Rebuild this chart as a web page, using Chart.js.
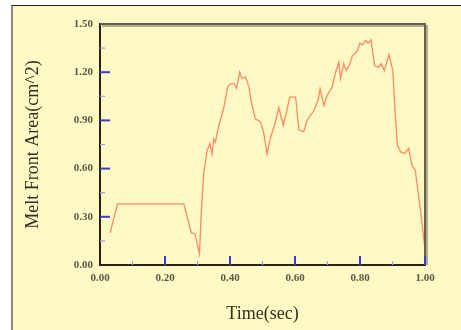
<!DOCTYPE html>
<html>
<head>
<meta charset="utf-8">
<script src="https://cdn.jsdelivr.net/npm/chart.js@4/dist/chart.umd.min.js"></script>
<style>
  html, body { margin: 0; padding: 0; background: #ffffff; }
  #wrap { position: relative; width: 461px; height: 330px; overflow: hidden; }
  #panel { position: absolute; left: 11px; top: 5px; width: 460px; height: 330px;
           background: #fff9c6; border-top: 1px solid #222; border-left: 2px solid #888; }
  #cv { position: absolute; left: 0; top: 0; }
</style>
</head>
<body>
<div id="wrap">
  <div id="panel"></div>
  <canvas id="cv" width="461" height="330"></canvas>
</div>
<script>
// Time (sec)
const timeSec = [0.031,0.054,0.258,0.281,0.292,0.306,0.311,0.319,0.330,0.338,0.345,0.350,0.355,0.366,0.381,0.393,0.402,0.412,0.420,0.430,0.437,0.448,0.458,0.465,0.478,0.494,0.504,0.514,0.525,0.537,0.550,0.555,0.564,0.571,0.584,0.602,0.612,0.627,0.637,0.658,0.671,0.677,0.689,0.699,0.714,0.725,0.735,0.740,0.750,0.758,0.769,0.776,0.791,0.800,0.808,0.817,0.825,0.834,0.845,0.858,0.865,0.875,0.889,0.901,0.909,0.915,0.925,0.937,0.950,0.960,0.970,0.986,1.000];
// Melt Front Area (cm^2)
const meltArea = [0.20,0.38,0.38,0.20,0.195,0.07,0.30,0.57,0.715,0.756,0.69,0.787,0.766,0.87,0.98,1.11,1.128,1.13,1.10,1.20,1.16,1.17,1.11,1.02,0.91,0.89,0.82,0.69,0.797,0.87,0.98,0.94,0.87,0.93,1.045,1.045,0.84,0.83,0.90,0.96,1.025,1.097,0.994,1.056,1.107,1.20,1.262,1.16,1.252,1.21,1.252,1.30,1.33,1.38,1.37,1.397,1.38,1.40,1.24,1.231,1.252,1.21,1.31,1.21,0.92,0.746,0.704,0.694,0.725,0.62,0.59,0.34,0.10];
// Tick values
const xMajorTicks = [0.2,0.4,0.6,0.8,1.0];
const xMinorTicks = [0.1,0.3,0.5,0.7,0.9];
const yMajorTicks = [0.3,0.6,0.9,1.2];
const yMinorTicks = [0.15,0.45,0.75,1.05,1.35];

const points = timeSec.map((t, i) => ({ x: t, y: meltArea[i] }));

const framePlugin = {
  id: 'frame',
  afterDatasetsDraw(chart) {
    const { ctx, chartArea: a, scales: { x, y } } = chart;
    ctx.save();
    ctx.strokeStyle = '#b4aa8c';
    ctx.lineWidth = 2;
    ctx.beginPath();
    ctx.moveTo(a.left + 2, a.top + 2);
    ctx.lineTo(a.right + 2, a.top + 2);
    ctx.lineTo(a.right + 2, a.bottom);
    ctx.stroke();
    ctx.strokeStyle = '#6a5f48';
    ctx.lineWidth = 2;
    ctx.beginPath();
    ctx.moveTo(a.left, a.top);
    ctx.lineTo(a.right, a.top);
    ctx.lineTo(a.right, a.bottom);
    ctx.stroke();
    const yb = y.getPixelForValue(0);
    const xl = x.getPixelForValue(0);
    ctx.lineWidth = 2;
    ctx.strokeStyle = '#3a3ad4';
    xMajorTicks.forEach(v => { const px = x.getPixelForValue(v); ctx.beginPath(); ctx.moveTo(px, yb); ctx.lineTo(px, yb - 9); ctx.stroke(); });
    yMajorTicks.forEach(v => { const py = y.getPixelForValue(v); ctx.beginPath(); ctx.moveTo(xl, py); ctx.lineTo(xl + 10, py); ctx.stroke(); });
    ctx.lineWidth = 1.2;
    ctx.strokeStyle = '#a898e0';
    xMinorTicks.forEach(v => { const px = x.getPixelForValue(v); ctx.beginPath(); ctx.moveTo(px, yb); ctx.lineTo(px, yb - 4); ctx.stroke(); });
    yMinorTicks.forEach(v => { const py = y.getPixelForValue(v); ctx.beginPath(); ctx.moveTo(xl, py); ctx.lineTo(xl + 5, py); ctx.stroke(); });
    ctx.restore();
  }
};

new Chart(document.getElementById('cv'), {
  type: 'line',
  data: {
    datasets: [{
      data: points,
      borderColor: '#ff8a66',
      borderWidth: 1.3,
      pointRadius: 0,
      tension: 0,
      fill: false
    }]
  },
  options: {
    responsive: false,
    animation: false,
    events: [],
    layout: { padding: { top: 24, right: 36, left: 0, bottom: 0 } },
    plugins: { legend: { display: false }, tooltip: { enabled: false } },
    scales: {
      x: {
        type: 'linear', min: 0, max: 1,
        afterFit(s) { s.height = 65; },
        grid: { display: false, drawTicks: false },
        border: { display: true, color: '#2a2418', width: 2 },
        ticks: { stepSize: 0.2, padding: 7, color: '#5e5644', maxRotation: 0,
                 font: { family: 'Liberation Serif', size: 11, weight: 'bold' },
                 callback: v => Number(v).toFixed(2) },
        title: { display: true, text: 'Time(sec)', color: '#3a2c1c',
                 font: { family: 'Liberation Serif', size: 18 }, padding: { top: 0, bottom: 5 } }
      },
      y: {
        min: 0, max: 1.5,
        afterFit(s) { s.width = 100; },
        grid: { display: false, drawTicks: false },
        border: { display: true, color: '#2a2418', width: 2 },
        ticks: { stepSize: 0.3, padding: 7, color: '#5e5644',
                 font: { family: 'Liberation Serif', size: 11, weight: 'bold' },
                 callback: v => Number(v).toFixed(2) },
        title: { display: true, text: 'Melt Front Area(cm^2)', color: '#3a2c1c',
                 font: { family: 'Liberation Serif', size: 18 }, padding: { top: 22, bottom: 0 } }
      }
    }
  },
  plugins: [framePlugin]
});
</script>
</body>
</html>
